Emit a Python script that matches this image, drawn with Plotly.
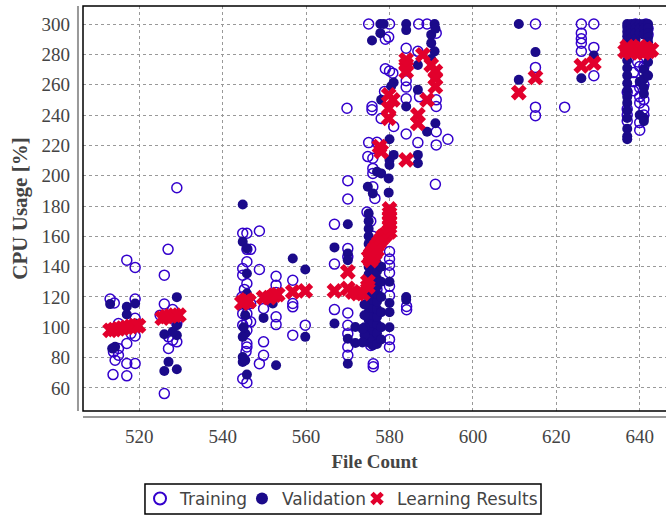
import plotly.graph_objects as go

# ---------------- data ----------------
train_x = [517.0, 519.0, 513.0, 519.0, 514.0, 515.0, 519.0, 519.0, 517.0, 513.8, 515.0, 514.2, 517.0, 519.0, 513.7, 517.0, 515.0, 518.0,
           529.0, 526.9, 526.0, 526.0, 525.0, 528.0, 529.0, 529.0, 527.0, 528.0, 529.0, 527.0, 526.0,
           544.8, 545.8, 545.8, 546.7, 545.8, 544.8, 544.8, 545.8, 546.7, 544.8, 545.8, 544.8, 545.8, 546.7, 545.8, 545.8, 545.8, 544.8, 545.8, 548.8, 548.8, 545.2, 544.6, 545.6,
           549.8, 549.8, 549.8, 548.8, 552.8, 552.8, 552.8, 552.8, 552.8,
           556.8, 556.8, 556.8, 556.8, 559.8,
           566.8, 566.8, 566.8,
           570.0, 570.0, 570.0, 570.0, 570.0, 570.0, 570.0, 570.0, 570.0, 569.8,
           575.0, 575.0, 574.8, 576.0, 576.0, 576.0, 577.0, 575.8, 575.8, 578.8, 578.0, 574.6, 576.0, 576.5, 575.5, 576.0, 577.0, 576.0, 575.0, 577.0, 576.0, 575.5, 577.0, 576.0, 575.5, 576.1, 576.1, 579.0,
           580.0, 579.8, 579.0, 580.0, 580.8, 581.0, 580.0, 580.0, 580.0, 580.0, 580.0, 580.0, 580.0, 580.0,
           584.0, 584.0, 584.0, 584.0, 584.0, 584.1, 584.1,
           587.0, 589.0, 586.8, 586.8, 587.2,
           591.2, 591.2, 591.2, 591.2, 591.2, 594.0, 591.0,
           615.0, 615.0, 615.0, 615.0, 622.0, 626.0, 629.0, 626.0, 626.0, 626.0, 626.0, 629.0, 629.0,
           637.5, 638.5, 638.5, 638.5, 638.5, 637.0, 637.0, 637.0, 637.0, 640.0, 640.0, 640.0, 640.0, 640.0, 640.0, 640.0,
           641.0, 641.0, 641.0, 641.0, 641.0, 641.0, 642.0, 642.0, 639.5, 639.0, 641.5]
train_y = [144.3, 139.5, 118.6, 118.6, 116.0, 102.5, 106.0, 94.3, 89.3, 83.8, 81.6, 78.3, 76.1, 76.1, 68.8, 68.0, 86.0, 96.0,
           192.0, 151.4, 134.4, 115.3, 108.0, 111.7, 108.0, 102.5, 93.7, 91.5, 90.4, 86.0, 56.3,
           162.0, 162.0, 151.4, 151.4, 143.2, 138.8, 134.4, 128.9, 115.7, 109.0, 109.0, 101.4, 103.6, 103.6, 98.0, 89.3, 87.0, 66.1, 63.5, 163.5, 138.1, 125.0, 120.0, 84.0,
           112.4, 90.4, 81.5, 76.0, 133.7, 127.8, 106.9, 101.8, 123.0,
           131.0, 115.7, 113.5, 94.8, 101.4,
           167.9, 141.7, 111.7,
           196.7, 184.6, 152.0, 146.5, 109.5, 101.3, 95.8, 87.0, 81.5, 244.5,
           300.0, 221.8, 212.6, 211.5, 204.8, 201.5, 222.0, 245.6, 243.4, 255.5, 237.7, 176.0, 192.7, 185.0, 170.0, 160.0, 150.0, 140.0, 130.0, 125.0, 118.0, 110.0, 100.0, 92.0, 88.0, 75.9, 74.0, 290.0,
           300.0, 291.4, 270.5, 269.0, 267.6, 232.4, 150.0, 145.0, 141.0, 136.0, 127.0, 121.0, 92.0, 87.0,
           284.0, 262.6, 258.4, 250.7, 227.5, 113.8, 111.6,
           300.0, 300.0, 282.0, 221.8, 252.0,
           294.0, 250.0, 245.6, 229.0, 220.3, 224.0, 194.3,
           300.0, 271.4, 245.2, 239.6, 245.2, 300.0, 300.0, 294.0, 290.3, 287.4, 282.0, 284.6, 265.9,
           290.0, 287.0, 268.0, 262.0, 256.0, 255.0, 244.0, 240.0, 236.0, 290.0, 272.0, 258.0, 252.0, 248.0, 235.0, 230.0,
           272.0, 268.0, 260.0, 250.0, 244.0, 240.0, 297.0, 293.0, 275.0, 300.0, 300.0]

val_x = [513.0, 517.0, 517.0, 519.0, 519.0, 514.2, 513.5,
         529.0, 526.0, 529.0, 529.0, 527.0, 526.0, 529.0, 528.0,
         544.8, 544.8, 545.8, 545.8, 545.8, 545.4, 545.4, 545.4, 544.8, 544.8, 544.8, 545.4, 545.8, 545.0,
         549.8, 552.8, 552.0, 556.8, 559.8, 559.8, 566.8, 566.8,
         570.0, 570.0, 570.0, 570.0, 570.0, 571.8, 571.8,
         575.0, 575.0, 575.0, 575.0, 575.0, 575.0, 575.0, 575.0, 575.0, 575.0, 575.0, 575.0, 575.0, 575.0, 575.0, 575.0, 575.0, 575.0,
         576.0, 576.0, 576.0, 576.0, 576.0, 576.0, 576.0, 576.0, 576.0, 576.0, 576.0, 576.0, 576.0, 576.0,
         577.0, 577.0, 577.0, 577.0, 577.0, 577.0, 577.0, 577.0, 577.0, 577.0, 577.0, 577.0,
         578.0, 578.0, 578.0, 578.0, 578.0, 578.0, 574.0, 574.0, 574.0, 574.0, 573.5, 573.5,
         577.8, 578.6, 584.0, 584.0, 590.8, 577.8, 575.8, 590.0, 590.0, 590.8, 586.8, 591.0, 581.0, 586.8, 578.0, 584.0, 591.0, 589.0,
         580.0, 580.0, 581.0, 580.0, 577.0, 578.0, 579.8, 574.8, 576.0, 579.8, 586.8, 586.8, 580.4, 591.0, 590.0, 584.0, 584.0, 580.0, 580.0, 580.0, 580.0,
         611.0, 615.0, 611.0, 626.0, 629.0,
         637.0, 637.0, 637.0, 637.0, 637.0, 637.0, 637.0, 637.0, 637.0, 637.0, 637.0, 637.0, 637.0, 637.0, 637.0, 637.0, 637.0, 637.0,
         638.0, 638.0, 638.0, 638.0, 639.0, 639.0, 639.0, 639.0,
         640.0, 640.0, 640.0, 640.0, 640.0, 640.0,
         641.0, 641.0, 641.0, 641.0, 641.0, 641.0, 641.0, 641.0, 641.0,
         642.0, 642.0, 642.0, 642.0, 642.0, 642.0, 642.0]
val_y = [115.3, 113.5, 108.4, 115.7, 102.5, 87.1, 86.0,
         119.9, 95.4, 101.4, 94.8, 77.2, 71.2, 72.3, 97.0,
         181.0, 156.4, 152.0, 135.5, 122.3, 114.6, 108.0, 95.9, 93.7, 80.4, 77.1, 78.2, 68.8, 100.0,
         106.2, 75.0, 115.7, 145.4, 138.1, 93.7, 152.7, 102.5,
         168.0, 148.7, 144.3, 92.5, 76.0, 100.2, 89.6,
         90.0, 95.0, 100.0, 105.0, 110.0, 115.0, 120.0, 125.0, 130.0, 135.0, 140.0, 145.0, 150.0, 155.0, 160.0, 165.0, 170.0, 175.0,
         88.0, 93.0, 98.0, 103.0, 108.0, 113.0, 118.0, 123.0, 128.0, 133.0, 138.0, 143.0, 148.0, 153.0,
         89.0, 96.0, 102.0, 107.0, 112.0, 117.0, 122.0, 127.0, 132.0, 137.0, 142.0, 147.0,
         92.0, 100.0, 110.0, 120.0, 130.0, 140.0, 95.0, 100.0, 108.0, 115.0, 90.0, 99.0,
         300.0, 300.0, 300.0, 296.0, 300.0, 294.0, 289.2, 293.0, 287.4, 282.0, 273.0, 265.0, 261.5, 256.6, 250.0, 245.6, 234.6, 229.0,
         224.0, 210.4, 213.7, 207.0, 202.6, 201.5, 198.2, 192.7, 188.3, 188.8, 213.7, 208.2, 259.0, 297.0, 277.0, 118.2, 120.0, 130.0, 116.0, 110.0, 100.0,
         300.0, 281.5, 263.2, 264.3, 279.3,
         300.0, 298.0, 295.0, 292.0, 289.0, 286.0, 276.0, 271.0, 266.0, 261.0, 256.0, 252.0, 248.0, 243.0, 238.0, 231.0, 226.0, 224.0,
         300.0, 297.0, 294.0, 291.0, 300.0, 297.0, 294.0, 290.0,
         300.0, 297.0, 294.0, 285.0, 262.0, 240.0,
         300.0, 297.0, 293.0, 270.0, 264.0, 258.0, 254.0, 238.0, 236.0,
         300.0, 297.0, 294.0, 291.0, 288.0, 275.0, 266.0]

res_x = [513.0, 514.0, 515.0, 516.0, 517.0, 518.0, 519.0, 519.8,
         525.5, 526.5, 527.5, 528.5, 529.5,
         544.6, 545.2, 545.8, 546.3,
         549.8, 551.2, 552.4, 553.2, 556.8, 559.8, 566.8,
         570.0, 570.0, 571.2, 572.4, 573.6, 574.8, 574.8,
         575.0, 575.5, 576.0, 576.5, 577.0, 577.5, 578.0, 578.5, 579.0, 575.5, 576.0, 576.5, 577.0,
         580.0, 580.0, 580.0, 580.0, 580.0, 580.0,
         577.6, 578.0, 579.8, 580.8, 579.8, 579.8, 584.0, 584.0, 584.0, 584.0, 588.0, 590.0, 591.0, 591.0, 591.0, 589.0, 586.8, 586.8,
         611.0, 615.0, 626.0, 629.0,
         636.5, 637.2, 637.9, 638.6, 639.3, 640.0, 640.7, 641.4, 642.1, 642.8, 637.0, 641.0]
res_y = [98.0, 98.5, 99.0, 99.5, 100.0, 100.5, 101.0, 101.0,
         106.0, 107.0, 107.5, 108.0, 108.0,
         116.0, 117.0, 118.0, 117.0,
         119.6, 119.6, 121.2, 121.6, 123.4, 124.0, 124.0,
         136.6, 125.6, 123.3, 122.2, 122.2, 126.7, 130.0,
         146.0, 148.0, 150.0, 152.0, 154.0, 156.0, 158.0, 160.0, 161.0, 144.0, 146.0, 149.0, 151.0,
         163.0, 166.0, 169.0, 172.0, 175.0, 178.0,
         219.2, 215.9, 253.3, 250.0, 244.5, 237.9, 210.4, 276.4, 273.1, 268.7, 279.7, 273.0, 268.7, 264.3, 258.8, 250.0, 240.0, 234.6,
         254.8, 264.8, 272.5, 274.2,
         282.0, 283.0, 281.0, 284.0, 282.0, 285.0, 283.0, 284.0, 282.0, 283.0, 285.0, 281.0]

x_ticks = [520, 540, 560, 580, 600, 620, 640]
y_ticks = [60, 80, 100, 120, 140, 160, 180, 200, 220, 240, 260, 280, 300]

# ---------------- figure ----------------
SERIF = "Liberation Serif, Times New Roman, serif"
LEG_FONT = dict(family="DejaVu Sans", size=17, color="#444")

fig = go.Figure()
fig.add_trace(go.Scatter(x=train_x, y=train_y, mode="markers", name="Training", legend="legend",
                         marker=dict(symbol="circle-open", size=10, color="#3300cc",
                                     line=dict(width=1.5, color="#3300cc"))))
fig.add_trace(go.Scatter(x=val_x, y=val_y, mode="markers", name="Validation", legend="legend2",
                         marker=dict(symbol="circle", size=10, color="#1b0a8a")))
fig.add_trace(go.Scatter(x=res_x, y=res_y, mode="markers", name="Learning Results", legend="legend3",
                         marker=dict(symbol="x", size=14, color="#e2002c",
                                     line=dict(width=0))))

leg_common = dict(orientation="h", y=-0.217, yanchor="middle", xanchor="left",
                  borderwidth=0, bgcolor="rgba(0,0,0,0)", font=LEG_FONT, itemsizing="constant")

fig.update_layout(
    width=666, height=515,
    margin=dict(l=83, r=0, t=6, b=104, autoexpand=False),
    paper_bgcolor="white", plot_bgcolor="white",
    showlegend=True,
    legend=dict(x=0.0978, **leg_common),
    legend2=dict(x=0.2727, **leg_common),
    legend3=dict(x=0.4700, **leg_common),
    xaxis=dict(range=[506.5, 646.3], tickvals=x_ticks, ticktext=[str(v) for v in x_ticks],
               showgrid=True, gridcolor="#999", gridwidth=1, griddash="3px,3px",
               zeroline=False, showline=False, ticks="", ticklabelstandoff=12,
               tickfont=dict(family=SERIF, size=19, color="#444"),
               title=dict(text="<b>File Count</b>", standoff=8,
                          font=dict(family=SERIF, size=19, color="#444")),
               automargin=False),
    yaxis=dict(range=[44.8, 311.9], tickvals=y_ticks, ticktext=[str(v) for v in y_ticks],
               showgrid=True, gridcolor="#999", gridwidth=1, griddash="3px,3px",
               zeroline=False, showline=False, ticks="", ticklabelstandoff=12,
               tickfont=dict(family=SERIF, size=19, color="#444"),
               title=dict(text="<b>CPU Usage [%]</b>", standoff=8,
                          font=dict(family=SERIF, size=21, color="#444")),
               automargin=False),
    shapes=[
        dict(type="rect", xref="paper", yref="paper", x0=0, x1=1.01, y0=0, y1=1,
             line=dict(color="black", width=1.5), layer="above"),
        dict(type="line", xref="paper", yref="paper", x0=-0.0086, x1=-0.0086, y0=0, y1=1,
             line=dict(color="#999", width=2)),
        dict(type="line", xref="paper", yref="paper", x0=0, x1=1.01, y0=-0.0148, y1=-0.0148,
             line=dict(color="#999", width=2)),
        dict(type="rect", xref="paper", yref="paper", x0=0.1063, x1=0.7856, y0=-0.1802, y1=-0.2543,
             line=dict(color="black", width=1.5), fillcolor="white", layer="below"),
    ],
)

fig.write_html("out.html")
